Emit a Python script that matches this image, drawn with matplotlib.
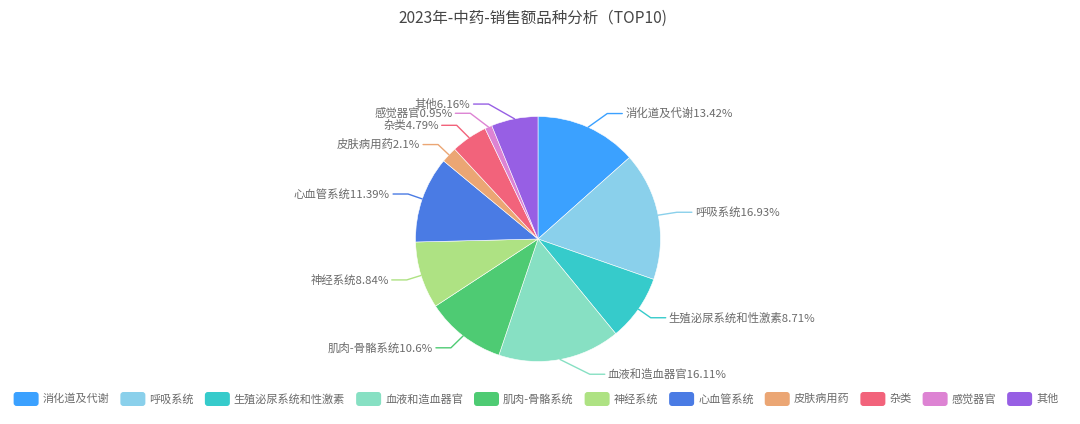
import numpy as np
import matplotlib
matplotlib.use('Agg')
import matplotlib.pyplot as plt
from matplotlib.patches import FancyBboxPatch

plt.rcParams['font.family'] = ['Noto Sans CJK SC', 'DejaVu Sans']

title = '2023年-中药-销售额品种分析（TOP10)'
names = ['消化道及代谢', '呼吸系统', '生殖泌尿系统和性激素', '血液和造血器官', '肌肉-骨骼系统',
         '神经系统', '心血管系统', '皮肤病用药', '杂类', '感觉器官', '其他']
shares = [13.42, 16.93, 8.71, 16.11, 10.6, 8.84, 11.39, 2.1, 4.79, 0.95, 6.16]
colors = ['#3BA1FF', '#8AD0EB', '#36CBCB', '#87E0C3', '#4ECB73', '#AEE283',
          '#4A7BE4', '#EBA674', '#F2637B', '#DD83D3', '#975FE4']

# layout (pixels)
W, H = 1080, 424
CX, CY, R = 538, H - 239, 122.5
LEN1, LEN2 = 15, 15
elbow_dx = [13, 4, 0, 27, -3, 0, 0, 0, -4, -12, -23]

fig = plt.figure(figsize=(W / 100, H / 100), dpi=100)
ax = fig.add_axes([0, 0, 1, 1])
ax.pie(shares, colors=colors, startangle=90, counterclock=False,
       center=(CX, CY), radius=R,
       wedgeprops=dict(linewidth=0.4, edgecolor='white'))
ax.set_xlim(0, W)
ax.set_ylim(0, H)
ax.axis('off')

# labels with leader lines
cum = np.cumsum([0] + shares[:-1])
for i, (nm, v) in enumerate(zip(names, shares)):
    th = np.deg2rad((cum[i] + v / 2) / 100 * 360)
    sx, sy = CX + R * np.sin(th), CY + R * np.cos(th)
    ex = CX + (R + LEN1) * np.sin(th) + elbow_dx[i]
    ey = CY + (R + LEN1) * np.cos(th)
    side = 1 if np.sin(th) >= 0 else -1
    hx = ex + side * LEN2
    ax.plot([sx, ex, hx], [sy, ey, ey], color=colors[i], lw=1, solid_capstyle='round')
    ax.text(hx + side * 3, ey, f'{nm}{v:g}%', ha='left' if side > 0 else 'right',
            va='center', fontsize=8.2, color='#6b6b6b')

fig.text(533 / W, 1 - 18 / H, title, ha='center', va='center', fontsize=11.2, color='#464646')

# legend
renderer = fig.canvas.get_renderer()
LY = H - 399
texts = [ax.text(0, LY, nm, ha='left', va='center', fontsize=8.0, color='#6b6b6b') for nm in names]
tw = [t.get_window_extent(renderer).width for t in texts]
total = sum(25 + 4 + w for w in tw) + 11 * (len(names) - 1)
x = 536 - total / 2
for i, t in enumerate(texts):
    ax.add_patch(FancyBboxPatch((x + 1.5, LY - 7 + 1.5), 22, 11,
                                boxstyle='round,pad=1.5,rounding_size=3',
                                fc=colors[i], ec='none'))
    t.set_x(x + 29)
    x += 29 + tw[i] + 11

fig.savefig('out.png', dpi=100)
